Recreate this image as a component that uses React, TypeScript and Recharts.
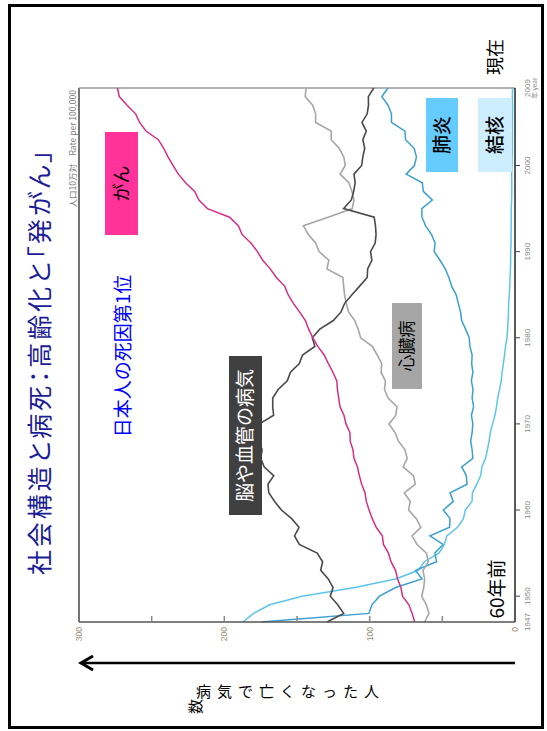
import React from "react";
import { LineChart, Line, XAxis, YAxis, ReferenceLine } from "recharts";

// 人口10万対の死亡率（1947〜2009年）
const YEARS = [
  1947, 1948, 1949,
  1950, 1951, 1952, 1953, 1954, 1955, 1956, 1957, 1958, 1959,
  1960, 1961, 1962, 1963, 1964, 1965, 1966, 1967, 1968, 1969,
  1970, 1971, 1972, 1973, 1974, 1975, 1976, 1977, 1978, 1979,
  1980, 1981, 1982, 1983, 1984, 1985, 1986, 1987, 1988, 1989,
  1990, 1991, 1992, 1993, 1994, 1995, 1996, 1997, 1998, 1999,
  2000, 2001, 2002, 2003, 2004, 2005, 2006, 2007, 2008, 2009,
];

const CANCER = [
  69.0, 70.8, 73.0,
  77.4, 78.5, 80.8, 82.2, 85.3, 87.1, 90.5, 91.3, 95.5, 98.2,
  100.4, 102.3, 103.2, 105.5, 107.1, 108.4, 110.8, 111.5, 113.4, 113.6,
  116.3, 117.7, 120.4, 121.3, 122.2, 122.6, 125.3, 128.4, 131.3, 135.7,
  139.1, 142.0, 144.2, 148.3, 152.5, 156.1, 158.5, 164.2, 168.4, 173.6,
  177.2, 181.7, 187.8, 190.4, 196.4, 211.6, 217.5, 220.4, 226.7, 231.6,
  235.2, 238.8, 241.7, 245.4, 253.9, 258.3, 261.0, 266.9, 272.3, 273.5,
];

const CEREBRO = [
  129.4, 117.9, 122.0,
  127.1, 125.2, 128.5, 133.7, 132.4, 136.1, 148.4, 151.7, 148.6, 153.7,
  160.7, 165.4, 169.4, 170.0, 166.0, 172.5, 175.0, 174.0, 176.0, 177.0,
  175.8, 166.1, 166.7, 166.7, 163.0, 156.7, 154.5, 148.4, 146.2, 137.7,
  139.5, 134.3, 125.0, 119.7, 117.2, 112.2, 106.9, 101.7, 101.4, 98.5,
  99.4, 96.2, 95.6, 96.0, 96.9, 117.9, 112.6, 111.0, 110.0, 110.8,
  105.5, 104.7, 103.4, 104.7, 102.3, 105.3, 101.7, 100.8, 100.9, 97.2,
];

const HEART = [
  62.2, 59.2, 61.0,
  64.2, 62.8, 62.2, 63.3, 59.6, 60.9, 67.4, 70.8, 64.8, 67.9,
  73.2, 72.1, 76.2, 68.6, 69.9, 77.0, 74.2, 75.7, 80.2, 82.5,
  86.7, 82.0, 81.2, 87.3, 89.8, 89.2, 92.2, 91.7, 94.8, 98.2,
  106.2, 107.9, 110.3, 114.5, 116.1, 117.3, 117.9, 118.4, 129.4, 128.1,
  134.8, 137.2, 142.2, 145.6, 128.6, 112.0, 110.8, 112.2, 114.3, 120.4,
  116.8, 117.8, 121.0, 126.5, 126.5, 137.2, 137.2, 139.2, 144.4, 143.7,
];

const PNEUMONIA = [
  174.8, 100.5, 98.5,
  93.2, 82.2, 64.0, 68.4, 54.0, 55.1, 49.5, 58.5, 45.0, 44.7,
  49.3, 42.5, 44.7, 33.0, 33.5, 36.7, 29.0, 29.5, 30.5, 29.5,
  29.0, 30.0, 28.5, 29.5, 28.9, 30.0, 29.0, 29.8, 29.5, 31.0,
  31.5, 34.0, 36.7, 37.5, 39.0, 40.5, 43.6, 45.5, 48.0, 51.6,
  55.6, 55.0, 57.5, 61.5, 64.0, 64.1, 56.9, 63.1, 63.8, 74.9,
  69.2, 67.8, 69.4, 75.3, 75.7, 85.0, 85.0, 87.4, 91.6, 87.4,
];

const TUBERCULOSIS = [
  187.2, 179.9, 168.8,
  146.4, 110.3, 82.2, 66.5, 62.4, 52.3, 48.6, 46.9, 39.5, 35.5,
  34.2, 29.6, 29.3, 26.3, 23.6, 22.8, 20.3, 19.0, 17.8, 17.0,
  15.4, 13.8, 12.7, 11.9, 10.6, 9.5, 8.9, 8.0, 7.2, 6.5,
  5.5, 5.1, 4.7, 4.5, 4.4, 3.9, 3.6, 3.4, 3.1, 3.0,
  3.0, 2.7, 2.7, 2.6, 2.6, 2.6, 2.3, 2.2, 2.2, 2.3,
  2.1, 2.0, 1.8, 1.9, 1.8, 1.8, 1.7, 1.7, 1.8, 1.7,
];

const YEAR_TICKS = [1947, 1950, 1960, 1970, 1980, 1990, 2000, 2009];
const RATE_TICKS = [0, 50, 100, 150, 200, 250, 300];
const RATE_LABELS = [0, 100, 200, 300];

const data = YEARS.map((year, i) => ({
  year,
  cancer: CANCER[i],
  cerebro: CEREBRO[i],
  heart: HEART[i],
  pneumonia: PNEUMONIA[i],
  tb: TUBERCULOSIS[i],
}));

const JP = "'Noto Sans CJK JP', 'Noto Sans', sans-serif";
const LATIN = "'Liberation Sans', Arial, sans-serif";

// slide is laid out landscape, then turned a quarter left onto the page
const SLIDE_W = 731;
const SLIDE_H = 547;

function RateTick(props: any) {
  const { x, y, payload } = props;
  const v = payload.value as number;
  return (
    <g>
      {v > 0 && v < 300 && (
        <line x1={x} x2={x + 6} y1={y} y2={y} stroke="#888" strokeWidth={1.5} />
      )}
      {RATE_LABELS.includes(v) && (
        <text x={x - 5} y={y} dy="0.35em" textAnchor="end" fontSize={8.5} fill="#9a8c74" fontFamily={LATIN}>
          {v}
        </text>
      )}
    </g>
  );
}

function YearTick(props: any) {
  const { x, y, payload } = props;
  const v = payload.value as number;
  const inner = v !== 1947 && v !== 2009;
  return (
    <g>
      {inner && <line x1={x} x2={x} y1={y} y2={y + 5} stroke="#444" strokeWidth={1} />}
      <text x={x} y={y + 15} textAnchor="middle" fontSize={8} fill="#888" fontFamily={LATIN}>
        {v}
      </text>
      {v === 2009 && (
        <text x={x} y={y + 22} textAnchor="middle" fontSize={6.5} fill="#888" fontFamily={JP}>
          年 year
        </text>
      )}
    </g>
  );
}

function Tag(props: { x: number; y: number; w: number; h: number; fill: string; color: string; size: number; weight?: number; text: string }) {
  const { x, y, w, h, fill, color, size, weight, text } = props;
  return (
    <g>
      <rect x={x} y={y} width={w} height={h} fill={fill} />
      <text x={x + w / 2} y={y + h / 2} dy="0.36em" textAnchor="middle" fontSize={size} fill={color} fontWeight={weight ?? 400} fontFamily={JP}>
        {text}
      </text>
    </g>
  );
}

export default function App() {
  return (
    <div style={{ position: "fixed", left: 0, top: 0, width: 547, height: 731, background: "#fff", overflow: "hidden" }}>
      <div
        style={{
          position: "absolute",
          left: 0,
          top: 0,
          width: SLIDE_W,
          height: SLIDE_H,
          transformOrigin: "0 0",
          transform: `translate(0px, ${SLIDE_W}px) rotate(-90deg)`,
        }}
      >
        <LineChart
          width={SLIDE_W}
          height={SLIDE_H}
          data={data}
          margin={{ top: 79, right: 88, bottom: 12, left: 89 }}
        >
          <XAxis
            dataKey="year"
            type="number"
            domain={[1947, 2009]}
            ticks={YEAR_TICKS}
            interval={0}
            height={20}
            tickSize={0}
            tickMargin={0}
            tickLine={false}
            axisLine={{ stroke: "#222", strokeWidth: 1.5 }}
            tick={<YearTick />}
          />
          <YAxis
            type="number"
            domain={[0, 300]}
            ticks={RATE_TICKS}
            interval={0}
            width={20}
            tickSize={0}
            tickMargin={0}
            tickLine={false}
            axisLine={{ stroke: "#555", strokeWidth: 1.5 }}
            tick={<RateTick />}
          />
          <ReferenceLine y={300} stroke="#444" strokeWidth={1.5} />
          <ReferenceLine x={2009} stroke="#999" strokeWidth={1.5} />
          <Line dataKey="tb" stroke="#5ec4ec" strokeWidth={1.5} dot={false} isAnimationActive={false} />
          <Line dataKey="pneumonia" stroke="#3a9fd2" strokeWidth={1.5} dot={false} isAnimationActive={false} />
          <Line dataKey="heart" stroke="#a6a6a6" strokeWidth={1.6} dot={false} isAnimationActive={false} />
          <Line dataKey="cerebro" stroke="#4a4a4a" strokeWidth={1.6} dot={false} isAnimationActive={false} />
          <Line dataKey="cancer" stroke="#d42f86" strokeWidth={1.5} dot={false} isAnimationActive={false} />
        </LineChart>

        <svg width={SLIDE_W} height={SLIDE_H} style={{ position: "absolute", left: 0, top: 0 }}>
          <text
            x={156}
            y={49}
            fontSize={25}
            fill="#1c1c96"
            fontFamily={JP}
            textLength={425}
            lengthAdjust="spacing"
            style={{ fontFeatureSettings: '"palt"' }}
          >
            社会構造と病死：高齢化と「発がん」
          </text>
          <text x={641} y={76} textAnchor="end" fontSize={8.5} fill="#7a7a7a" fontFamily={JP}>
            人口10万対　Rate per 100,000
          </text>
          <text x={375} y={130} textAnchor="middle" fontSize={19} fill="#0000ff" fontFamily={JP}>
            日本人の死因第1位
          </text>
          <Tag x={496} y={105} w={103} h={33} fill="#ff3399" color="#000" size={18} text="がん" />
          <Tag x={216} y={229} w={159} h={33} fill="#404040" color="#fff" size={19} text="脳や血管の病気" />
          <Tag x={342} y={392} w={86} h={30} fill="#a6a6a6" color="#000" size={17} text="心臓病" />
          <Tag x={559} y={426} w={74} h={32} fill="#66ccff" color="#000" size={19} weight={500} text="肺炎" />
          <Tag x={559} y={478} w={74} h={34} fill="#cceeff" color="#000" size={19} weight={500} text="結核" />
          <text x={674} y={502} textAnchor="middle" fontSize={18} fill="#000" fontFamily={JP}>
            現在
          </text>
          <text x={142} y={504} textAnchor="middle" fontSize={19} fill="#000" fontFamily={JP}>
            60年前
          </text>
        </svg>
      </div>

      {/* page-level frame, arrow and caption */}
      <div
        style={{
          position: "absolute",
          left: 8,
          top: 4,
          width: 536,
          height: 725,
          border: "3px solid #000",
          boxSizing: "border-box",
        }}
      />
      <svg width={547} height={731} style={{ position: "absolute", left: 0, top: 0 }}>
        <line x1={515} y1={663} x2={82} y2={663} stroke="#000" strokeWidth={2.5} />
        <polyline points="93,656 81,663 93,670" fill="none" stroke="#000" strokeWidth={3} />
        <text x={196} y={697} fontSize={15} letterSpacing={6} fill="#000" fontFamily={JP}>
          病気で亡くなった人
        </text>
        <text x={0} y={0} fontSize={15} fill="#000" fontFamily={JP} transform="translate(201 714) rotate(-90)">
          数
        </text>
      </svg>
    </div>
  );
}
